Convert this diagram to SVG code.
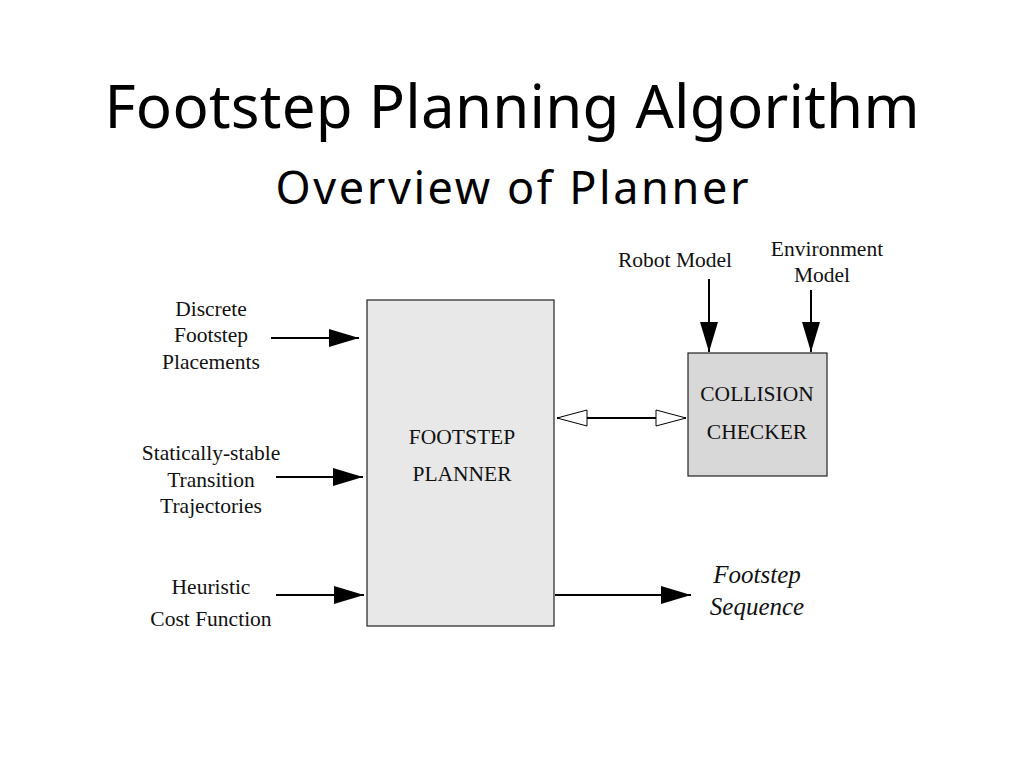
<svg xmlns="http://www.w3.org/2000/svg" width="1024" height="768" viewBox="0 0 1024 768">
<style>
.t{font-family:"Comic Sans MS","Noto Sans","DejaVu Sans",sans-serif;fill:#000;text-anchor:middle}
.l{font-family:"Liberation Serif","Times New Roman",serif;font-size:21.5px;fill:#111;text-anchor:middle}
.i{font-family:"Liberation Serif","Times New Roman",serif;font-size:25px;font-style:italic;fill:#111;text-anchor:middle}
.ln{stroke:#000;stroke-width:2;fill:none}
</style>
<defs>
<marker id="ah" markerWidth="30" markerHeight="18" refX="30" refY="9" orient="auto" markerUnits="userSpaceOnUse">
<path d="M0,0 L30,9 L0,18 Z" fill="#000"/>
</marker>
<marker id="ho" markerWidth="32" markerHeight="18" refX="31" refY="9" orient="auto-start-reverse" markerUnits="userSpaceOnUse">
<path d="M1,1 L31,9 L1,17 Z" fill="#fff" stroke="#000" stroke-width="1"/>
</marker>
</defs>
<rect width="1024" height="768" fill="#fff"/>
<text class="t" x="512" y="128" font-size="60" textLength="815" lengthAdjust="spacing">Footstep Planning Algorithm</text>
<text class="t" x="512" y="204" font-size="45" textLength="473" lengthAdjust="spacing">Overview of Planner</text>

<g id="planner">
<rect x="367" y="300" width="187" height="326" fill="#e8e8e8" stroke="#222" stroke-width="1.2"/>
<text class="l" x="462" y="444">FOOTSTEP</text>
<text class="l" x="462" y="481">PLANNER</text>
</g>
<g id="collision">
<rect x="688" y="353" width="139" height="123" fill="#d8d8d8" stroke="#222" stroke-width="1.2"/>
<text class="l" x="757" y="401">COLLISION</text>
<text class="l" x="757" y="439">CHECKER</text>
</g>
<g id="discrete">
<text class="l" x="211" y="316">Discrete</text>
<text class="l" x="211" y="342">Footstep</text>
<text class="l" x="211" y="369">Placements</text>
</g>
<g id="transition">
<text class="l" x="211" y="460">Statically-stable</text>
<text class="l" x="211" y="487">Transition</text>
<text class="l" x="211" y="513">Trajectories</text>
</g>
<g id="heuristic">
<text class="l" x="211" y="594">Heuristic</text>
<text class="l" x="211" y="626">Cost Function</text>
</g>
<g id="robot">
<text class="l" x="675" y="267">Robot Model</text>
</g>
<g id="environment">
<text class="l" x="827" y="256">Environment</text>
<text class="l" x="822" y="282">Model</text>
</g>
<g id="sequence">
<text class="i" x="757" y="583">Footstep</text>
<text class="i" x="757" y="615">Sequence</text>
</g>
<g id="connectors">
<line class="ln" x1="271" y1="338" x2="359" y2="338" marker-end="url(#ah)"/>
<line class="ln" x1="276" y1="477" x2="363" y2="477" marker-end="url(#ah)"/>
<line class="ln" x1="276" y1="595" x2="364" y2="595" marker-end="url(#ah)"/>
<line class="ln" x1="555" y1="595" x2="691" y2="595" marker-end="url(#ah)"/>
<line class="ln" x1="709" y1="279" x2="709" y2="352" marker-end="url(#ah)"/>
<line class="ln" x1="811" y1="290" x2="811" y2="352" marker-end="url(#ah)"/>
<line class="ln" x1="557" y1="418" x2="686" y2="418" marker-start="url(#ho)" marker-end="url(#ho)"/>
</g>
</svg>
